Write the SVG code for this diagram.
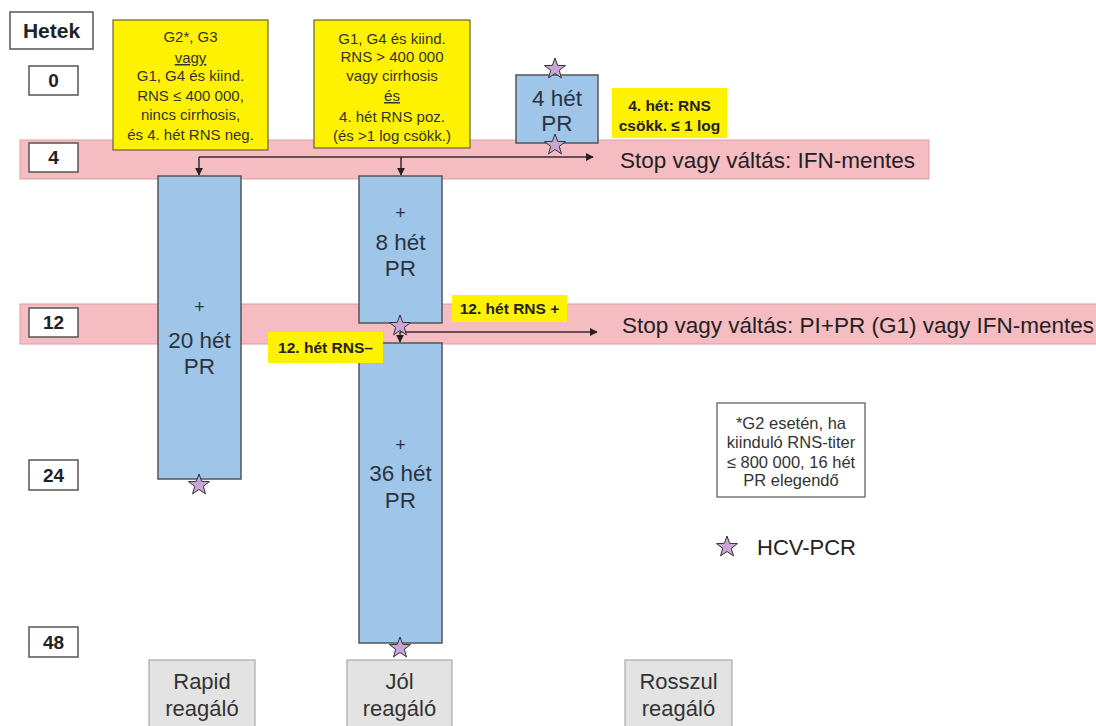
<svg xmlns="http://www.w3.org/2000/svg" width="1096" height="726" viewBox="0 0 1096 726">
<style>
text{font-family:"Liberation Sans",Arial,sans-serif;fill:#222}
.wk{fill:#fff;stroke:#555;stroke-width:1.5}
.wt{font-size:19px;font-weight:bold;text-anchor:middle}
.band{fill:#f5bcc2;stroke:#d9a0a6;stroke-width:1}
.yel{fill:#fff200;stroke:#6b6330;stroke-width:1.2}
.yl{fill:#fff200}
.yt{font-size:15px;text-anchor:middle;fill:#333}
.yb{font-size:15.5px;font-weight:bold;text-anchor:middle;fill:#222}
.blue{fill:#9fc5e8;stroke:#555;stroke-width:1.5}
.bt{font-size:22.5px;text-anchor:middle;fill:#2a3340}
.bp{font-size:18px;text-anchor:middle;fill:#2a3340}
.gray{fill:#e3e3e3;stroke:#aaa;stroke-width:1.2}
.gt{font-size:22px;text-anchor:middle;fill:#333}
.st{font-size:22.5px;fill:#222}
.ft{font-size:16.5px;text-anchor:middle;fill:#333}
.con{stroke:#3a2a2e;stroke-width:1.5;fill:none}
.star{fill:#c9a6d6;stroke:#333;stroke-width:1}
</style>
<defs>
<marker id="ah" viewBox="0 0 10 10" refX="9" refY="5" markerWidth="8" markerHeight="8" markerUnits="userSpaceOnUse" orient="auto">
<path d="M0,0 L10,5 L0,10 Z" fill="#222"/>
</marker>
<path id="star" class="star" d="M0,-11 L2.65,-3.64 L10.46,-3.4 L4.28,1.39 L6.47,8.9 L0,4.5 L-6.47,8.9 L-4.28,1.39 L-10.46,-3.4 L-2.65,-3.64 Z"/>
</defs>
<rect width="1096" height="726" fill="#fff"/>

<g id="bands">
<rect class="band" x="20" y="140" width="909" height="39"/>
<rect class="band" x="20" y="304" width="1090" height="40"/>
</g>

<g id="week-hetek"><rect class="wk" x="10" y="12" width="83" height="37"/><text x="51.5" y="38" class="wt" style="font-size:21px">Hetek</text></g>
<g id="week-0"><rect class="wk" x="29" y="66" width="49" height="29"/><text x="53.5" y="87" class="wt">0</text></g>
<g id="week-4"><rect class="wk" x="29" y="143" width="49" height="29"/><text x="53.5" y="164" class="wt">4</text></g>
<g id="week-12"><rect class="wk" x="29" y="308" width="49" height="29"/><text x="53.5" y="329" class="wt">12</text></g>
<g id="week-24"><rect class="wk" x="29" y="460" width="49" height="30"/><text x="53.5" y="482" class="wt">24</text></g>
<g id="week-48"><rect class="wk" x="29" y="627" width="49" height="30"/><text x="53.5" y="649" class="wt">48</text></g>

<g id="cond-rapid">
<rect class="yel" x="113" y="20" width="155" height="130"/>
<text class="yt" x="190.5" y="42">G2*, G3</text>
<text class="yt" x="190.5" y="63" text-decoration="underline">vagy</text>
<text class="yt" x="190.5" y="81">G1, G4 és kiind.</text>
<text class="yt" x="190.5" y="101">RNS ≤ 400 000,</text>
<text class="yt" x="190.5" y="120">nincs cirrhosis,</text>
<text class="yt" x="190.5" y="140">és 4. hét RNS neg.</text>
</g>

<g id="cond-good">
<rect class="yel" x="314" y="20" width="156" height="128"/>
<text class="yt" x="392" y="44">G1, G4 és kiind.</text>
<text class="yt" x="392" y="62">RNS &gt; 400 000</text>
<text class="yt" x="392" y="81">vagy cirrhosis</text>
<text class="yt" x="392" y="101" text-decoration="underline">és</text>
<text class="yt" x="392" y="122">4. hét RNS poz.</text>
<text class="yt" x="392" y="141">(és &gt;1 log csökk.)</text>
</g>

<g id="lead-in">
<rect class="blue" x="516" y="75" width="82" height="68"/>
<text class="bt" x="557" y="106">4 hét</text>
<text class="bt" x="557" y="131">PR</text>
</g>

<g id="label-4w">
<rect class="yl" x="612" y="88" width="115" height="50"/>
<text class="yb" x="669.5" y="111">4. hét: RNS</text>
<text class="yb" x="669.5" y="131">csökk. ≤ 1 log</text>
</g>

<g id="rapid-bar">
<rect class="blue" x="158" y="176" width="83" height="303"/>
<text class="bp" x="199.5" y="313">+</text>
<text class="bt" x="199.5" y="348">20 hét</text>
<text class="bt" x="199.5" y="374">PR</text>
</g>

<g id="good-bar-8">
<rect class="blue" x="359" y="176" width="83" height="147"/>
<text class="bp" x="400.5" y="219">+</text>
<text class="bt" x="400.5" y="250">8 hét</text>
<text class="bt" x="400.5" y="276">PR</text>
</g>

<g id="good-bar-36">
<rect class="blue" x="359" y="343" width="83" height="300"/>
<text class="bp" x="400.5" y="451">+</text>
<text class="bt" x="400.5" y="481">36 hét</text>
<text class="bt" x="400.5" y="508">PR</text>
</g>

<g id="label-12pos">
<rect class="yl" x="452" y="295" width="115" height="27"/>
<text class="yb" x="509.5" y="314">12. hét RNS +</text>
</g>
<g id="label-12neg">
<rect class="yl" x="268" y="332" width="115" height="31"/>
<text class="yb" x="325.5" y="353">12. hét RNS–</text>
</g>

<g id="stop-1"><text class="st" x="620" y="168">Stop vagy váltás: IFN-mentes</text></g>
<g id="stop-2"><text class="st" x="622" y="333">Stop vagy váltás: PI+PR (G1) vagy IFN-mentes</text></g>

<g id="connectors">
<path class="con" d="M199,157 L593,157" marker-end="url(#ah)"/>
<path class="con" d="M199,157 L199,175" marker-end="url(#ah)"/>
<path class="con" d="M401,157 L401,175" marker-end="url(#ah)"/>
<path class="con" d="M400,332 L597,332" marker-end="url(#ah)"/>
<path class="con" d="M400,332 L400,342" marker-end="url(#ah)"/>
</g>

<g id="stars">
<use href="#star" x="555" y="69"/>
<use href="#star" x="555" y="145"/>
<use href="#star" x="400" y="326"/>
<use href="#star" x="199" y="485"/>
<use href="#star" x="400" y="648"/>
</g>

<g id="footnote">
<rect x="717" y="403" width="148" height="94" fill="#fff" stroke="#555" stroke-width="1.2"/>
<text class="ft" x="791" y="429">*G2 esetén, ha</text>
<text class="ft" x="791" y="448">kiinduló RNS-titer</text>
<text class="ft" x="791" y="468">≤ 800 000, 16 hét</text>
<text class="ft" x="791" y="486">PR elegendő</text>
</g>

<g id="legend">
<use href="#star" x="727" y="547"/>
<text x="757" y="555" style="font-size:22px">HCV-PCR</text>
</g>

<g id="resp-rapid"><rect class="gray" x="149" y="660" width="106" height="70"/><text class="gt" x="202" y="689">Rapid</text><text class="gt" x="202" y="716">reagáló</text></g>
<g id="resp-good"><rect class="gray" x="347" y="660" width="105" height="70"/><text class="gt" x="399.5" y="689">Jól</text><text class="gt" x="399.5" y="716">reagáló</text></g>
<g id="resp-poor"><rect class="gray" x="625" y="660" width="107" height="70"/><text class="gt" x="678.5" y="689">Rosszul</text><text class="gt" x="678.5" y="716">reagáló</text></g>
</svg>
